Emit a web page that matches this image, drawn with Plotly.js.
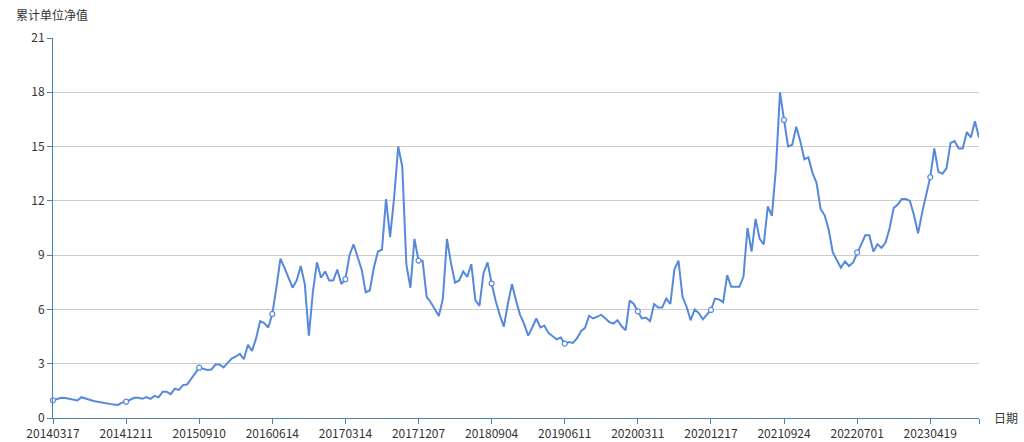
<!DOCTYPE html>
<html><head><meta charset="utf-8">
<script src="https://cdn.plot.ly/plotly-3.0.1.min.js"></script>
<style>html,body{margin:0;padding:0;background:#fff}#chart{width:1024px;height:442px}</style>
</head><body><div id="chart"></div>
<script>
var dates = [
'20140317','20140401','20140416','20140430','20140515','20140529','20140613','20140627','20140714','20140728','20140811','20140825','20140909','20140923','20141013','20141027','20141110','20141125',
'20141211','20141225','20150109','20150123','20150206','20150227','20150313','20150327','20150413','20150427','20150512','20150526','20150609','20150624','20150708','20150722','20150806','20150821',
'20150910','20150925','20151015','20151029','20151112','20151126','20151210','20151224','20160108','20160122','20160205','20160226','20160311','20160325','20160412','20160426','20160512','20160527',
'20160614','20160629','20160713','20160727','20160810','20160824','20160907','20160922','20161012','20161026','20161109','20161123','20161207','20161221','20170106','20170120','20170210','20170224',
'20170314','20170328','20170412','20170426','20170511','20170525','20170609','20170623','20170707','20170721','20170804','20170818','20170901','20170915','20171011','20171025','20171108','20171122',
'20171207','20171221','20180108','20180122','20180205','20180226','20180312','20180326','20180411','20180425','20180511','20180525','20180611','20180626','20180710','20180724','20180807','20180821',
'20180904','20180918','20181009','20181023','20181106','20181120','20181204','20181218','20190103','20190117','20190131','20190221','20190307','20190321','20190404','20190419','20190508','20190524',
'20190611','20190625','20190709','20190723','20190806','20190820','20190903','20190918','20191009','20191023','20191106','20191120','20191204','20191218','20200103','20200117','20200211','20200225',
'20200311','20200325','20200409','20200423','20200512','20200526','20200609','20200624','20200710','20200724','20200807','20200821','20200904','20200918','20201012','20201026','20201109','20201123',
'20201217','20201231','20210115','20210129','20210219','20210305','20210319','20210402','20210420','20210506','20210520','20210603','20210621','20210705','20210719','20210802','20210816','20210830',
'20210924','20211015','20211029','20211112','20211126','20211210','20211224','20220110','20220124','20220214','20220228','20220314','20220328','20220413','20220427','20220516','20220530','20220615',
'20220701','20220715','20220729','20220812','20220826','20220913','20220927','20221017','20221031','20221114','20221128','20221212','20221226','20230110','20230130','20230213','20230301','20230330',
'20230419','20230508','20230522','20230606','20230620','20230706','20230720','20230803','20230817','20230831','20230915','20231009','20231023'
];
var nav = [
0.98,1.05,1.12,1.10,1.05,1.00,0.97,1.15,1.07,1.00,0.94,0.90,0.85,0.82,0.79,0.74,0.72,0.85,
0.90,1.00,1.12,1.12,1.06,1.15,1.06,1.22,1.14,1.45,1.45,1.32,1.62,1.55,1.82,1.85,2.15,2.50,
2.78,2.72,2.65,2.68,2.95,2.95,2.80,3.05,3.28,3.40,3.54,3.25,4.05,3.70,4.40,5.35,5.25,5.00,
5.75,7.20,8.80,8.30,7.80,7.20,7.60,8.40,7.40,4.55,7.00,8.60,7.75,8.10,7.60,7.60,8.20,7.40,
7.67,9.00,9.60,8.90,8.20,6.95,7.05,8.30,9.20,9.30,12.10,10.00,12.20,15.00,13.90,8.50,7.20,9.90,
8.70,8.69,6.70,6.40,6.00,5.63,6.60,9.90,8.55,7.48,7.60,8.10,7.80,8.50,6.50,6.20,8.00,8.60,
7.43,6.46,5.70,5.05,6.30,7.40,6.50,5.70,5.20,4.55,5.00,5.50,5.00,5.10,4.70,4.50,4.35,4.45,
4.11,4.20,4.15,4.40,4.80,4.98,5.65,5.50,5.60,5.70,5.50,5.30,5.22,5.40,5.07,4.85,6.50,6.30,
5.89,5.50,5.55,5.35,6.30,6.10,6.10,6.60,6.30,8.20,8.70,6.70,6.15,5.40,6.00,5.80,5.45,5.70,
5.97,6.60,6.55,6.40,7.90,7.25,7.25,7.25,7.80,10.50,9.20,11.00,9.90,9.60,11.70,11.17,13.80,18.00,
16.47,15.00,15.10,16.10,15.30,14.30,14.40,13.55,13.00,11.55,11.20,10.40,9.15,8.70,8.30,8.65,8.40,8.60,
9.15,9.60,10.10,10.10,9.20,9.60,9.40,9.70,10.50,11.60,11.80,12.10,12.10,12.00,11.20,10.20,11.35,12.30,
13.31,14.90,13.60,13.50,13.80,15.20,15.30,14.90,14.90,15.80,15.50,16.40,15.50
];
var labelDates = ['20140317','20141211','20150910','20160614','20170314','20171207','20180904','20190611','20200311','20201217','20210924','20220701','20230419'];
var yTicks = [0,3,6,9,12,15,18,21];
var yName = '累计单位净值';
var xName = '日期';

var lineColor = '#5689db';
var axisColor = '#4682b4';
var font = '"Microsoft YaHei","Noto Sans CJK SC","Noto Sans",sans-serif';

var lastDate = dates[dates.length-1];
var tickVals = labelDates.concat([lastDate]);
var tickText = labelDates.concat(['']);

var traces = [
  {x: dates, y: nav, type:'scatter', mode:'lines', line:{color:lineColor, width:2}, hoverinfo:'skip'},
  {x: labelDates, y: labelDates.map(function(d){return nav[dates.indexOf(d)];}), type:'scatter', mode:'markers',
   marker:{size:5, color:'#ffffff', line:{color:lineColor, width:1.2}}, cliponaxis:false, hoverinfo:'skip'}
];
var W=1024,H=442,L=53,R=45,T=38,B=24;
var pw=W-L-R, ph=H-T-B;
var layout = {
  width:W, height:H, margin:{l:L,r:R,t:T,b:B,pad:0},
  paper_bgcolor:'#fff', plot_bgcolor:'#fff', showlegend:false, hovermode:false,
  font:{family:font, size:12, color:'#333'},
  xaxis:{type:'category', range:[0, dates.length-1], tickmode:'array', tickvals:tickVals, ticktext:tickText,
    ticks:'outside', ticklen:5, tickcolor:axisColor, tickwidth:1, showline:true, linecolor:axisColor, linewidth:1,
    showgrid:false, zeroline:false, tickangle:0, tickfont:{family:font,size:12,color:'#333'}, automargin:false},
  yaxis:{range:[0,21], tickmode:'array', tickvals:yTicks, ticks:'outside', ticklen:5, tickcolor:axisColor, tickwidth:1,
    showline:true, linecolor:axisColor, linewidth:1, showgrid:true, gridcolor:'#cccccc', gridwidth:1, zeroline:false,
    tickfont:{family:font,size:12,color:'#333'}, automargin:false},
  annotations:[
    {text:yName, xref:'paper', yref:'paper', x:(52-L)/pw, y:1+(T-15)/ph, xanchor:'center', yanchor:'middle', showarrow:false, font:{family:font,size:12,color:'#333'}},
    {text:xName, xref:'paper', yref:'paper', x:(1006-L)/pw, y:(418-417)/ph, xanchor:'center', yanchor:'middle', showarrow:false, font:{family:font,size:12,color:'#333'}}
  ]
};
Plotly.newPlot('chart', traces, layout, {displayModeBar:false, staticPlot:true});
</script></body></html>
